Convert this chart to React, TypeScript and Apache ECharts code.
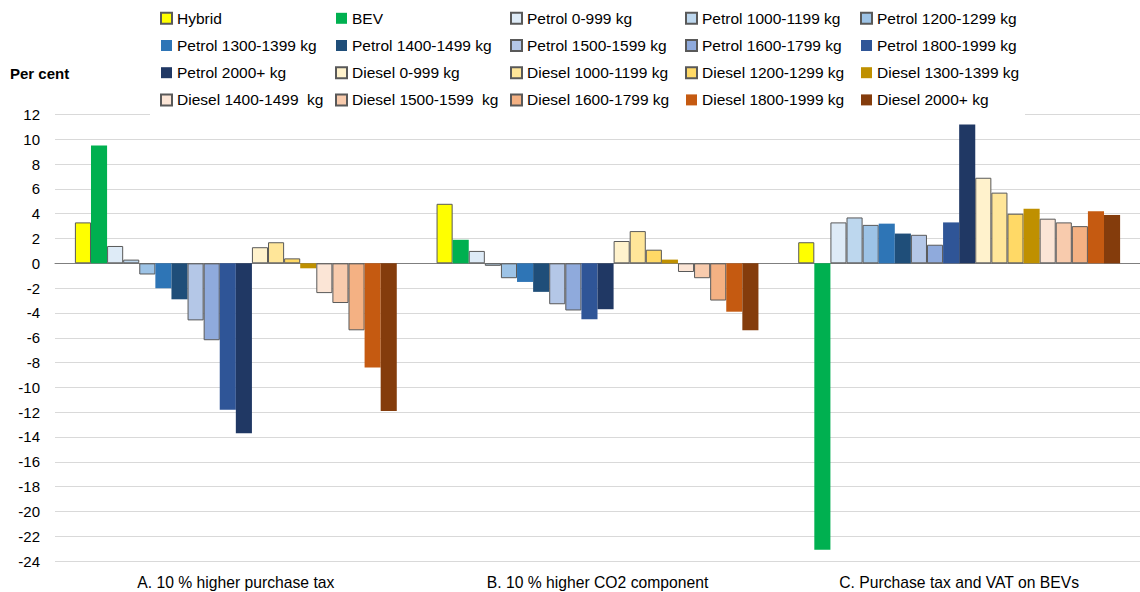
import React, { useEffect, useRef } from "react";
import * as echarts from "echarts";

const categories = [
  "A. 10 % higher purchase tax",
  "B. 10 % higher CO2 component",
  "C. Purchase tax and VAT on BEVs",
];

const seriesNames = [
  "Hybrid",
  "BEV",
  "Petrol 0-999 kg",
  "Petrol 1000-1199 kg",
  "Petrol 1200-1299 kg",
  "Petrol 1300-1399 kg",
  "Petrol 1400-1499 kg",
  "Petrol 1500-1599 kg",
  "Petrol 1600-1799 kg",
  "Petrol 1800-1999 kg",
  "Petrol 2000+ kg",
  "Diesel 0-999 kg",
  "Diesel 1000-1199 kg",
  "Diesel 1200-1299 kg",
  "Diesel 1300-1399 kg",
  "Diesel 1400-1499  kg",
  "Diesel 1500-1599  kg",
  "Diesel 1600-1799 kg",
  "Diesel 1800-1999 kg",
  "Diesel 2000+ kg",
];

const seriesColors = [
  "#FFFF00", "#00B050",
  "#DEEBF7", "#BDD7EE", "#9DC3E6", "#2E75B6", "#1F4E79", "#B4C7E7", "#8FAADC", "#2F5597", "#203864",
  "#FFF2CC", "#FFE699", "#FFD966", "#BF9000", "#FBE5D6", "#F8CBAD", "#F4B183", "#C55A11", "#843C0C",
];

const seriesBordered = [
  true, false,
  true, true, true, false, false, true, true, false, false,
  true, true, true, false, true, true, true, false, false,
];

// values per group, in series order
const groupA = [3.3, 9.5, 1.4, 0.3, -0.9, -2.0, -2.9, -4.6, -6.2, -11.8, -13.7, 1.3, 1.7, 0.4, -0.4, -2.4, -3.2, -5.4, -8.4, -11.9];
const groupB = [4.8, 1.9, 1.0, -0.2, -1.2, -1.5, -2.3, -3.3, -3.8, -4.5, -3.7, 1.8, 2.6, 1.1, 0.3, -0.7, -1.2, -3.0, -3.9, -5.4];
const groupC = [1.7, -23.1, 3.3, 3.7, 3.1, 3.2, 2.4, 2.3, 1.5, 3.3, 11.2, 6.9, 5.7, 4.0, 4.4, 3.6, 3.3, 3.0, 4.2, 3.9];

const yMin = -24;
const yMax = 12;
const yInterval = 2;

const FONT = "'Liberation Sans', Arial, sans-serif";

export default function App() {
  const ref = useRef<HTMLDivElement>(null);

  useEffect(() => {
    if (!ref.current) return;
    const chart = echarts.init(ref.current, undefined, { renderer: "svg" });

    const series = seriesNames.map((name, i) => ({
      name,
      type: "bar",
      xAxisIndex: 0,
      data: [groupA[i], groupB[i], groupC[i]],
      barGap: "0%",
      barCategoryGap: "11%",
      itemStyle: {
        color: seriesColors[i],
        borderColor: seriesBordered[i] ? "#595959" : seriesColors[i],
        borderWidth: seriesBordered[i] ? 1 : 0,
      },
    }));

    // legend laid out as 5 columns x 4 rows (row-major order of names)
    const colLefts = [160, 335, 510, 685, 860];
    const legends = colLefts.map((left, c) => ({
      show: true,
      orient: "vertical",
      left,
      top: 10.3,
      padding: 0,
      itemWidth: 11,
      itemHeight: 11,
      itemGap: 11.2,
      icon: "rect",
      selectedMode: false,
      data: [0, 1, 2, 3].map((r) => seriesNames[r * 5 + c]),
      textStyle: {
        fontFamily: FONT,
        fontSize: 15.5,
        lineHeight: 16,
        color: "#000",
      },
    }));

    chart.setOption({
      animation: false,
      backgroundColor: "#fff",
      grid: { left: 55, top: 114.5, width: 1092, height: 446.5, containLabel: false },
      legend: legends,
      graphic: [
        {
          type: "rect",
          z: 1,
          shape: { x: 150, y: 0, width: 875, height: 117 },
          style: { fill: "#ffffff" },
          silent: true,
        },
        {
          type: "text",
          left: 10,
          top: 66,
          style: {
            text: "Per cent",
            fontFamily: FONT,
            fontSize: 15,
            fontWeight: "bold",
            fill: "#000",
          },
        },
      ],
      xAxis: [
        {
          type: "category",
          data: categories,
          position: "bottom",
          axisLine: { show: false, onZero: false },
          axisTick: { show: false },
          axisLabel: {
            fontFamily: FONT,
            fontSize: 15.7,
            color: "#000",
            margin: 13,
          },
        },
        {
          type: "category",
          data: categories,
          position: "top",
          axisLine: { show: true, onZero: true, lineStyle: { color: "#7f7f7f", width: 1 } },
          axisTick: { show: false },
          axisLabel: { show: false },
        },
      ],
      yAxis: {
        type: "value",
        min: yMin,
        max: yMax,
        interval: yInterval,
        axisLine: { show: false },
        axisTick: { show: false },
        splitLine: { lineStyle: { color: "#d9d9d9", width: 1 } },
        axisLabel: {
          fontFamily: FONT,
          fontSize: 15,
          color: "#000",
          margin: 15,
        },
      },
      series,
    });

    return () => chart.dispose();
  }, []);

  return (
    <div
      ref={ref}
      style={{ position: "fixed", left: 0, top: 0, width: 1140, height: 592 }}
    />
  );
}
